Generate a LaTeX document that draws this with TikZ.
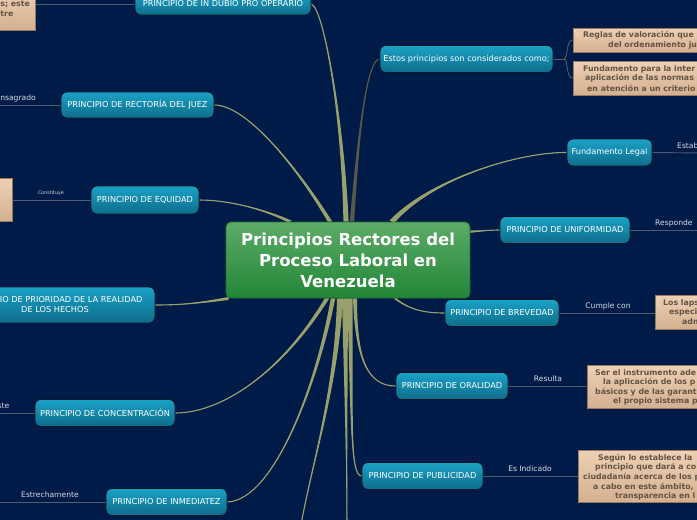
\documentclass[tikz,border=0pt]{standalone}
\usepackage{fontspec}
\setmainfont{DejaVu Sans}
\usetikzlibrary{calc}
\definecolor{bg}{RGB}{0,27,72}
\definecolor{branchcol}{RGB}{152,160,108}
\definecolor{darkbranch}{RGB}{88,88,74}
\definecolor{btop}{RGB}{26,162,198}
\definecolor{bbot}{RGB}{14,108,138}
\definecolor{bborder}{RGB}{6,22,38}
\definecolor{gtop}{RGB}{92,172,104}
\definecolor{gbot}{RGB}{34,134,54}
\definecolor{gborder}{RGB}{36,112,52}
\definecolor{beigetop}{RGB}{238,208,180}
\definecolor{beigebot}{RGB}{212,176,144}
\definecolor{beigeborder}{RGB}{150,122,96}
\definecolor{beigetext}{RGB}{100,84,68}
\definecolor{thincol}{RGB}{78,92,108}
\definecolor{lbltext}{RGB}{214,220,228}
\pgfdeclarelayer{back}
\pgfdeclarelayer{mid}
\pgfsetlayers{back,mid,main}
\tikzset{
  bnode/.style={draw=bborder, line width=0.8pt, rounded corners=6pt,
    top color=btop, bottom color=bbot, text=white,
    font=\fontsize{8.2}{10}\selectfont, minimum height=27pt, inner sep=2pt, align=center},
  cnode/.style={draw=gborder, line width=0.8pt, rounded corners=5pt,
    top color=gtop, bottom color=gbot, text=white,
    font=\bfseries\fontsize{16.5}{21}\selectfont, minimum width=244pt,
    minimum height=76pt, align=center, inner sep=2pt},
  beige/.style={draw=beigeborder, line width=0.8pt, top color=beigetop,
    bottom color=beigebot, inner sep=0pt},
  btext/.style={text=beigetext, font=\bfseries\fontsize{7.8}{8.5}\selectfont,
    anchor=west, inner sep=0pt},
  lbl/.style={text=lbltext, font=\fontsize{7.6}{9}\selectfont, inner sep=0pt},
  thinline/.style={draw=thincol, line width=0.9pt},
}
\newcommand\brch[6]{%
  \fill[#1] ($(#2)+(#6)$) .. controls ($(#3)+0.5*(#6)$) and (#4) .. (#5)
    .. controls (#4) and ($(#3)-0.5*(#6)$) .. ($(#2)-(#6)$) -- cycle;
  \draw[#1,line width=1.1pt] (#2) .. controls (#3) and (#4) .. (#5);}
\begin{document}
\begin{tikzpicture}[x=1pt,y=-1pt]
\useasboundingbox (0,0) rectangle (697,520);
\begin{scope}
\clip (0,0) rectangle (697,520);
% central node
\node[cnode] (c) at (348,260) {Principios Rectores del\\Proceso Laboral en\\Venezuela};
% blue nodes
\node[bnode, minimum width=176pt, minimum height=22pt] (dubio) at (223,4) {PRINCIPIO DE IN DUBIO PRO OPERARIO};
\node[bnode, minimum width=153pt, minimum height=26pt] (rect) at (137.5,105) {PRINCIPIO DE RECTORÍA DEL JUEZ};
\node[bnode, minimum width=108pt, minimum height=28pt] (equi) at (145,200) {PRINCIPIO DE EQUIDAD};
\node[bnode, minimum width=200pt, minimum height=36pt] (prio) at (55,305) {PRINCIPIO DE PRIORIDAD DE LA REALIDAD\\DE LOS HECHOS};
\node[bnode, minimum width=140pt] (conc) at (105,413) {PRINCIPIO DE CONCENTRACIÓN};
\node[bnode, minimum width=121pt] (inme) at (166.5,502) {PRINCIPIO DE INMEDIATEZ};
\node[bnode, minimum width=173pt] (estos) at (466.5,59) {Estos principios son considerados como;};
\node[bnode, minimum width=85pt] (fund) at (609.5,152.5) {Fundamento Legal};
\node[bnode, minimum width=130pt] (unif) at (565,230) {PRINCIPIO DE UNIFORMIDAD};
\node[bnode, minimum width=114pt] (brev) at (502,313) {PRINCIPIO DE BREVEDAD};
\node[bnode, minimum width=112pt] (oral) at (452,386) {PRINCIPIO DE ORALIDAD};
\node[bnode, minimum width=121pt] (publ) at (422.5,476) {PRINCIPIO DE PUBLICIDAD};
% beige boxes
\node[beige, minimum width=60pt, minimum height=42pt] (bTL) at (5,9) {};
\node[btext, anchor=east] (bTLa) at (30,4.5) {s; este};
\node[btext, anchor=east] (bTLb) at (13.5,14) {tre};
\node[beige, minimum width=40pt, minimum height=43pt] (bEQ) at (-8,199.5) {};
\node[beige, minimum width=140pt, minimum height=24pt] (bR1) at (643,40) {};
\node[btext] (bR1a) at (583,35.5) {Reglas de valoración que};
\node[btext] (bR1b) at (608,45) {del ordenamiento ju};
\node[beige, minimum width=140pt, minimum height=34pt] (bR2) at (643,78) {};
\node[btext] (bR2a) at (583,69) {Fundamento para la inter};
\node[btext] (bR2b) at (585,78.5) {aplicación de las normas};
\node[btext] (bR2c) at (587,88) {en atención a un criterio};
\node[beige, minimum width=80pt, minimum height=34pt] (bBrev) at (695,312) {};
\node[btext] (bBrev1) at (663,303) {Los laps};
\node[btext] (bBrev2) at (669,312.5) {especia};
\node[btext] (bBrev3) at (682,322) {adm};
\node[beige, minimum width=140pt, minimum height=43pt] (bOral) at (657,386.5) {};
\node[btext] (bOral1) at (595,373) {Ser el instrumento ade};
\node[btext] (bOral2) at (603,382.5) {la aplicación de los p};
\node[btext] (bOral3) at (595,392) {básicos y de las garant};
\node[btext] (bOral4) at (613,401) {el propio sistema p};
\node[beige, minimum width=150pt, minimum height=52pt] (bPubl) at (653,476) {};
\node[btext] (bPubl1) at (598,458) {Según lo establece la};
\node[btext] (bPubl2) at (595,467.5) {principio que dará a co};
\node[btext] (bPubl3) at (583,477) {ciudadanía acerca de los p};
\node[btext] (bPubl4) at (593,486.5) {a cabo en este ámbito,};
\node[btext] (bPubl5) at (615,496) {transparencia en l};
% labels
\node[lbl, anchor=east] (lRect) at (36,98) {nsagrado};
\node[lbl, font=\fontsize{4.8}{6}\selectfont] (lEqui) at (51,193.5) {Constituye};
\node[lbl, anchor=east] (lConc) at (9.5,405.5) {ste};
\node[lbl] (lInme) at (50,494.5) {Estrechamente};
\node[lbl, anchor=west] (lFund) at (677,145.5) {Estab};
\node[lbl, anchor=west] (lUnif) at (655,223) {Responde};
\node[lbl] (lBrev) at (608,306) {Cumple con};
\node[lbl] (lOral) at (548,379) {Resulta};
\node[lbl] (lPubl) at (530,469) {Es Indicado};
\end{scope}
% off-canvas ends
\coordinate (offA) at (298,545);
\coordinate (offB) at (347,545);
\coordinate (eRect) at (-5,105);
\coordinate (eConc) at (-5,413);
\coordinate (eInme) at (-5,502);
\coordinate (eFund) at (705,153);
\coordinate (eUnif) at (705,230);
\coordinate (split) at (564,59);
% branch start points
\coordinate (s1) at ($(c.north)+(-2,0)$);
\coordinate (s2) at ($(c.north)+(4,0)$);
\coordinate (s3) at ($(c.north)+(-18,0)$);
\coordinate (s4) at ($(c.north)+(-58,0)$);
\coordinate (s5) at ($(c.north)+(44,0)$);
\coordinate (s6) at ($(c.north east)+(0,10)$);
\coordinate (s7) at ($(c.south west)+(3,0)$);
\coordinate (s8) at ($(c.south)+(47,0)$);
\coordinate (s9) at ($(c.south)+(7,0)$);
\coordinate (s10) at ($(c.south)+(2,0)$);
\coordinate (s11) at ($(c.south)+(-21,0)$);
\coordinate (s12) at ($(c.south)+(-15,0)$);
\coordinate (s13) at ($(c.south)+(-8,0)$);
\coordinate (s14) at ($(c.south)+(-3,0)$);
\begin{pgfonlayer}{back}
\fill[bg] (-10,-10) rectangle (710,530);
\end{pgfonlayer}
\begin{pgfonlayer}{mid}
\clip (0,0) rectangle (697,520);
\brch{branchcol}{s1}{343,120}{324,9}{dubio.east}{2.6,0}
\brch{darkbranch}{s2}{358,140}{366,60}{estos.west}{2.2,0}
\brch{branchcol}{s3}{300,172}{248,105}{rect.east}{2.3,0}
\brch{branchcol}{s4}{266,210}{230,200}{equi.east}{1.6,-1}
\brch{branchcol}{s5}{432,178}{520,152}{fund.west}{2.6,1}
\brch{branchcol}{s6}{482,231}{490,230}{unif.west}{0,1.2}
\brch{branchcol}{s7}{200,303}{182,305}{prio.east}{0,1.5}
\brch{branchcol}{s8}{410,310}{425,313}{brev.west}{1.6,0}
\brch{branchcol}{s9}{356,360}{368,386}{oral.west}{2,0}
\brch{branchcol}{s10}{352,420}{350,476}{publ.west}{2.6,0}
\brch{branchcol}{s11}{282,372}{222,413}{conc.east}{2.3,0}
\brch{branchcol}{s12}{318,380}{275,500}{inme.east}{2.3,0}
\brch{branchcol}{s13}{336,400}{306,480}{offA}{3,0}
\brch{branchcol}{s14}{346,400}{347,480}{offB}{3,0}
% thin connectors
\draw[thinline] (dubio.west) -- (dubio.west -| bTL.east);
\draw[thinline] (rect.west) -- (eRect);
\draw[thinline] (equi.west) -- (equi.west -| bEQ.east);
\draw[thinline] (conc.west) -- (eConc);
\draw[thinline] (inme.west) -- (eInme);
\draw[thinline] (fund.east) -- (eFund);
\draw[thinline] (unif.east) -- (eUnif);
\draw[thinline] (brev.east) -- (brev.east -| bBrev.west);
\draw[thinline] (oral.east) -- (oral.east -| bOral.west);
\draw[thinline] (publ.east) -- (publ.east -| bPubl.west);
\draw[thinline] (estos.east) -- (split);
\draw[thinline] (split) .. controls (568,59) and (566,40) .. (bR1.west);
\draw[thinline] (split) .. controls (568,59) and (566,78) .. (bR2.west);
\end{pgfonlayer}
\end{tikzpicture}
\end{document}
